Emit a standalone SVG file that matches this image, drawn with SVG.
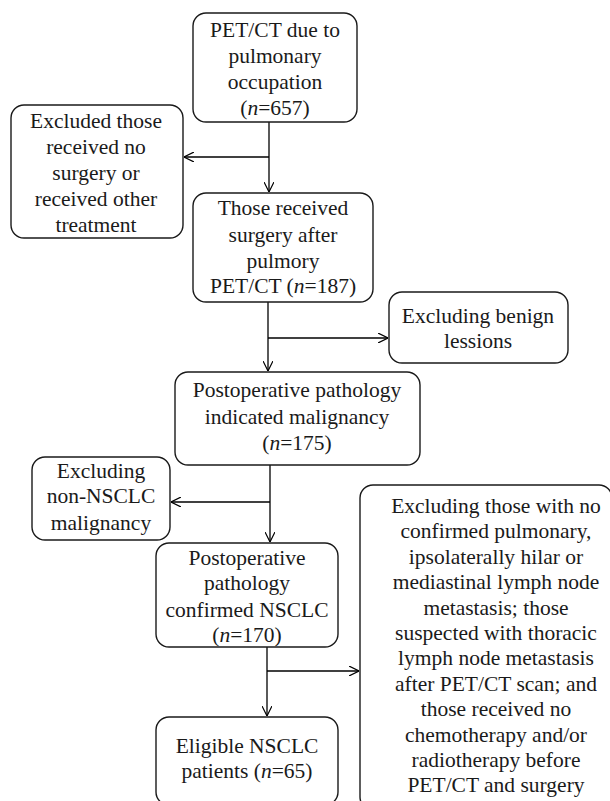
<svg xmlns="http://www.w3.org/2000/svg" width="610" height="801" viewBox="0 0 610 801">
<defs>
<marker id="arr" viewBox="0 0 10 10" refX="10" refY="5" markerWidth="10" markerHeight="10" markerUnits="userSpaceOnUse" orient="auto">
<path d="M0,0 L10,5 L0,10" fill="none" stroke="#000" stroke-width="1.2"/>
</marker>
<style>
.box{fill:#fff;stroke:#1a1a1a;stroke-width:1.4}
.t{font-family:"Liberation Serif","Times New Roman",serif;font-size:21.5px;fill:#1a1a1a;text-anchor:middle}
.c{fill:none;stroke:#000;stroke-width:1.3}
</style>
</defs>
<rect width="610" height="801" fill="#fff"/>
<g id="connectors">
<path class="c" d="M269,122 V192" marker-end="url(#arr)"/>
<path class="c" d="M269,157 H184" marker-end="url(#arr)"/>
<path class="c" d="M268,302 V371" marker-end="url(#arr)"/>
<path class="c" d="M268,338 H388" marker-end="url(#arr)"/>
<path class="c" d="M270,465 V542" marker-end="url(#arr)"/>
<path class="c" d="M270,502 H171" marker-end="url(#arr)"/>
<path class="c" d="M267,647 V716" marker-end="url(#arr)"/>
<path class="c" d="M267,671 H359" marker-end="url(#arr)"/>
</g>
<g id="n1">
<rect class="box" x="193" y="13" width="164" height="109" rx="13"/>
<text class="t" x="275" y="37">PET/CT due to</text>
<text class="t" x="275" y="63">pulmonary</text>
<text class="t" x="275" y="89">occupation</text>
<text class="t" x="275" y="115">(<tspan font-style="italic">n</tspan>=657)</text>
</g>
<g id="n2">
<rect class="box" x="11" y="105" width="172" height="133" rx="13"/>
<text class="t" x="96" y="128">Excluded those</text>
<text class="t" x="96" y="154">received no</text>
<text class="t" x="96" y="180">surgery or</text>
<text class="t" x="96" y="206">received other</text>
<text class="t" x="96" y="232">treatment</text>
</g>
<g id="n3">
<rect class="box" x="193" y="193" width="180" height="109" rx="13"/>
<text class="t" x="283" y="215">Those received</text>
<text class="t" x="283" y="242">surgery after</text>
<text class="t" x="283" y="268">pulmory</text>
<text class="t" x="283" y="293">PET/CT (<tspan font-style="italic">n</tspan>=187)</text>
</g>
<g id="n4">
<rect class="box" x="389" y="292" width="179" height="71" rx="13"/>
<text class="t" x="478" y="323">Excluding benign</text>
<text class="t" x="478" y="348">lessions</text>
</g>
<g id="n5">
<rect class="box" x="175" y="372" width="245" height="93" rx="13"/>
<text class="t" x="297" y="397">Postoperative pathology</text>
<text class="t" x="297" y="424">indicated malignancy</text>
<text class="t" x="297" y="450">(<tspan font-style="italic">n</tspan>=175)</text>
</g>
<g id="n6">
<rect class="box" x="32" y="457" width="138" height="83" rx="13"/>
<text class="t" x="101" y="478">Excluding</text>
<text class="t" x="101" y="503">non-NSCLC</text>
<text class="t" x="101" y="530">malignancy</text>
</g>
<g id="n7">
<rect class="box" x="156" y="543" width="182" height="104" rx="13"/>
<text class="t" x="247" y="565">Postoperative</text>
<text class="t" x="247" y="590">pathology</text>
<text class="t" x="247" y="617">confirmed NSCLC</text>
<text class="t" x="247" y="642">(<tspan font-style="italic">n</tspan>=170)</text>
</g>
<g id="n8">
<rect class="box" x="156" y="717" width="182" height="88" rx="13"/>
<text class="t" x="247" y="753">Eligible NSCLC</text>
<text class="t" x="247" y="778">patients (<tspan font-style="italic">n</tspan>=65)</text>
</g>
<g id="n9">
<rect class="box" x="360" y="485" width="252" height="325" rx="13"/>
<text class="t" x="496" y="513">Excluding those with no</text>
<text class="t" x="496" y="538">confirmed pulmonary,</text>
<text class="t" x="496" y="564">ipsolaterally hilar or</text>
<text class="t" x="496" y="589">mediastinal lymph node</text>
<text class="t" x="496" y="615">metastasis; those</text>
<text class="t" x="496" y="640">suspected with thoracic</text>
<text class="t" x="496" y="665">lymph node metastasis</text>
<text class="t" x="496" y="691">after PET/CT scan; and</text>
<text class="t" x="496" y="716">those received no</text>
<text class="t" x="496" y="742">chemotherapy and/or</text>
<text class="t" x="496" y="767">radiotherapy before</text>
<text class="t" x="496" y="792">PET/CT and surgery</text>
</g>
</svg>
